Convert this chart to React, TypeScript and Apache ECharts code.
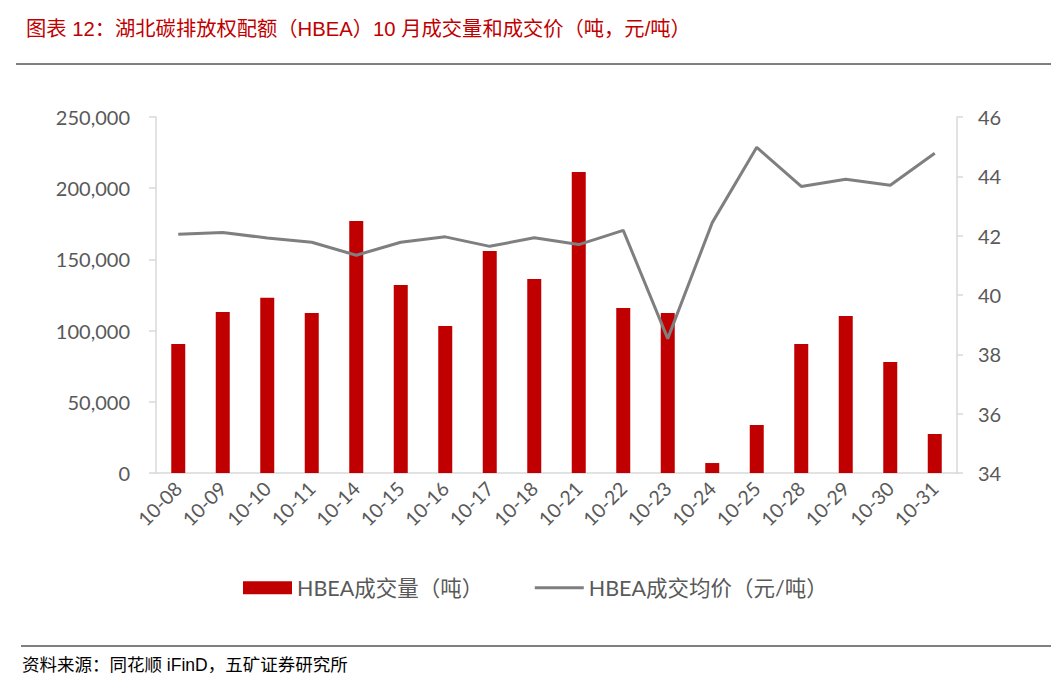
import React, { useEffect, useRef } from "react";
import * as echarts from "echarts";

const categories = ["10-08","10-09","10-10","10-11","10-14","10-15","10-16","10-17","10-18","10-21","10-22","10-23","10-24","10-25","10-28","10-29","10-30","10-31"];
const volume = [90600,113000,123000,112400,177000,132000,103200,155900,136200,211300,115800,112400,7000,33700,90600,110200,77900,27400];
const price = [42.05,42.11,41.92,41.78,41.34,41.78,41.96,41.64,41.93,41.70,42.18,38.53,42.44,44.98,43.66,43.90,43.70,44.78];
const volName = "HBEA成交量（吨）";
const priceName = "HBEA成交均价（元/吨）";
const titleText = "图表 12：湖北碳排放权配额（HBEA）10 月成交量和成交价（吨，元/吨）";
const sourceText = "资料来源：同花顺 iFinD，五矿证券研究所";

const FONT = "Lato, 'Noto Sans CJK SC', sans-serif";
const TFONT = "'Liberation Sans', 'Noto Sans CJK SC', sans-serif";

export default function App() {
  const ref = useRef<HTMLDivElement>(null);
  useEffect(() => {
    if (!ref.current) return;
    const chart = echarts.init(ref.current, null, { renderer: "svg" });
    chart.setOption({
      animation: false,
      backgroundColor: "#ffffff",
      title: {
        text: titleText,
        left: 21,
        top: 14,
        textStyle: { color: "#C00000", fontSize: 20.3, fontWeight: "normal", fontFamily: TFONT },
      },
      graphic: [
        { type: "line", shape: { x1: 16, y1: 64, x2: 1051, y2: 64 }, style: { stroke: "#000", lineWidth: 1 } },
        { type: "line", shape: { x1: 21, y1: 646, x2: 1051, y2: 646 }, style: { stroke: "#000", lineWidth: 1 } },
        {
          type: "text",
          left: 22,
          top: 656,
          style: { text: sourceText, fill: "#000", fontSize: 17.5, fontFamily: TFONT },
        },
      ],
      legend: {
        left: 238,
        top: 572,
        itemGap: 50,
        itemWidth: 49,
        itemHeight: 13,
        textStyle: { color: "#595959", fontSize: 21.5, fontFamily: FONT },
        data: [
          { name: volName, icon: "rect" },
          { name: priceName, itemStyle: { opacity: 0 }, lineStyle: { width: 3, color: "#7f7f7f" } },
        ],
      },
      grid: { left: 156, right: 94, top: 117, bottom: 218, containLabel: false },
      xAxis: {
        type: "category",
        data: categories,
        axisLine: { lineStyle: { color: "#d9d9d9", width: 1.5 } },
        axisTick: { show: false },
        axisLabel: { rotate: 45, color: "#595959", fontSize: 19.5, fontFamily: FONT, margin: 12, interval: 0 },
      },
      yAxis: [
        {
          type: "value",
          min: 0,
          max: 250000,
          interval: 50000,
          axisLine: { show: true, lineStyle: { color: "#d9d9d9", width: 1.5 } },
          axisTick: { show: true, length: 7, lineStyle: { color: "#d9d9d9", width: 1.5 } },
          splitLine: { show: false },
          axisLabel: {
            color: "#595959",
            fontSize: 20,
            fontFamily: FONT,
            margin: 26,
            formatter: (v: number) => v.toLocaleString("en-US"),
          },
        },
        {
          type: "value",
          min: 34,
          max: 46,
          interval: 2,
          position: "right",
          axisLine: { show: true, lineStyle: { color: "#d9d9d9", width: 1.5 } },
          axisTick: { show: true, length: 6, lineStyle: { color: "#d9d9d9", width: 1.5 } },
          splitLine: { show: false },
          axisLabel: { color: "#595959", fontSize: 20, fontFamily: FONT, margin: 21 },
        },
      ],
      series: [
        {
          name: volName,
          type: "bar",
          data: volume,
          barWidth: 14,
          itemStyle: { color: "#C00000" },
        },
        {
          name: priceName,
          type: "line",
          yAxisIndex: 1,
          data: price,
          symbol: "none",
          lineStyle: { color: "#7f7f7f", width: 3 },
          itemStyle: { color: "#7f7f7f" },
        },
      ],
    });
    return () => chart.dispose();
  }, []);
  return (
    <div
      ref={ref}
      style={{ position: "absolute", left: 0, top: 0, width: 1051, height: 691, background: "#fff" }}
    />
  );
}
